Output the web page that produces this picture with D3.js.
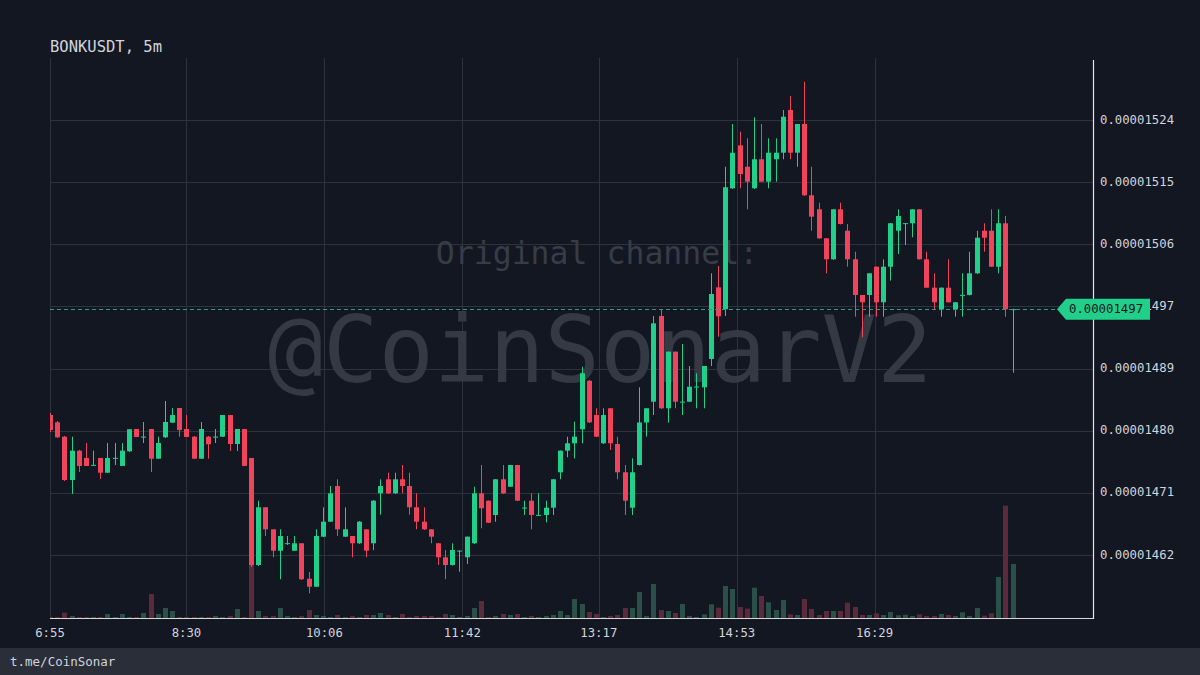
<!DOCTYPE html>
<html><head><meta charset="utf-8">
<script src="https://cdn.jsdelivr.net/npm/d3@7"></script>
<style>html,body{margin:0;padding:0;background:#131722;}svg{display:block;}</style>
</head><body><div id="chart"></div>
<script>
// ---- data (prices in units of 1e-8 USDT) ----
const symbolTitle = "BONKUSDT, 5m";
const startTime = "06:55";
const stepMinutes = 5;
const open = [1481.95,1480.91,1478.86,1472.69,1476.87,1475.83,1474.83,1475.83,1473.73,1475.83,
1474.69,1476.78,1479.96,1478.86,1479.96,1475.73,1478.78,1480.86,1482.95,1479.96,
1478.86,1475.73,1478.86,1478.86,1478.86,1481.95,1477.82,1479.96,1475.83,1460.57,
1468.80,1465.66,1462.61,1463.67,1462.61,1463.67,1458.62,1457.48,1464.61,1466.75,
1471.83,1464.61,1464.71,1463.67,1465.66,1463.67,1470.79,1472.79,1470.79,1472.79,
1471.83,1468.80,1466.75,1465.66,1463.67,1461.67,1460.57,1462.61,1461.67,1463.67,
1470.79,1469.74,1467.70,1472.79,1471.73,1474.83,1468.74,1469.74,1467.70,1467.70,
1468.74,1473.79,1476.87,1477.92,1479.92,1486.84,1481.95,1477.92,1482.91,1477.82,
1473.79,1468.74,1474.83,1480.89,1483.85,1496.06,1482.91,1490.98,1483.85,1483.85,
1485.99,1485.90,1489.94,1500.15,1497.02,1514.27,1520.39,1517.34,1514.27,1518.40,
1515.21,1518.40,1519.34,1525.43,1519.34,1523.43,1513.27,1511.27,1507.14,1504.15,
1511.27,1508.22,1504.15,1499.06,1499.06,1503.09,1498.02,1503.09,1508.22,1509.28,
1509.28,1511.27,1504.15,1500.10,1497.02,1500.10,1497.02,1499.06,1499.06,1502.15,
1508.22,1508.22,1503.09,1509.28,1497.02];
const close = [1479.82,1478.78,1472.69,1476.87,1474.69,1474.69,1474.85,1473.73,1475.83,1475.85,
1476.87,1479.92,1478.82,1478.88,1475.73,1477.96,1480.96,1481.95,1479.82,1478.82,
1475.73,1479.96,1477.78,1478.88,1481.95,1477.82,1479.96,1474.69,1460.57,1468.80,
1465.66,1462.61,1464.71,1463.69,1463.67,1458.54,1457.48,1464.71,1466.75,1470.79,
1465.66,1465.66,1463.67,1466.75,1462.61,1469.74,1471.83,1470.79,1472.79,1471.83,
1468.80,1466.75,1465.66,1464.61,1461.67,1460.57,1462.71,1462.63,1464.61,1470.79,
1468.66,1466.60,1472.79,1470.79,1474.83,1469.74,1468.76,1467.70,1467.72,1468.74,
1472.79,1476.87,1477.92,1478.86,1487.90,1480.91,1478.86,1481.95,1477.92,1473.79,
1469.74,1473.79,1480.89,1482.91,1495.02,1482.91,1490.98,1483.85,1483.87,1485.99,
1486.01,1488.94,1499.20,1496.02,1514.41,1519.34,1516.30,1515.21,1518.40,1515.21,
1519.34,1519.34,1524.47,1519.34,1523.43,1513.27,1510.22,1507.14,1504.15,1511.27,
1509.18,1504.15,1499.06,1498.02,1502.15,1498.02,1503.09,1509.28,1510.32,1509.30,
1511.27,1504.15,1500.10,1498.02,1500.10,1498.02,1498.02,1499.08,1502.15,1507.22,
1507.22,1503.09,1509.28,1497.02,1497.04];
const high = [1482.24,1481.10,1478.96,1478.86,1476.97,1477.96,1476.87,1475.83,1477.96,1477.96,
1477.96,1479.96,1479.96,1480.96,1479.96,1478.86,1483.95,1482.95,1482.95,1481.95,
1478.96,1480.96,1478.96,1479.96,1481.95,1481.95,1479.96,1479.96,1475.83,1469.74,
1468.84,1465.66,1465.66,1464.71,1464.71,1463.71,1459.58,1465.66,1468.80,1471.83,
1472.79,1468.80,1464.71,1466.85,1465.70,1469.84,1472.79,1473.73,1473.73,1474.83,
1473.73,1470.79,1468.80,1465.70,1463.71,1462.71,1463.67,1462.65,1464.64,1471.73,
1474.83,1469.77,1472.83,1474.83,1474.83,1474.83,1469.74,1470.79,1470.79,1469.74,
1472.83,1476.90,1478.86,1481.00,1488.84,1486.94,1482.91,1482.91,1482.95,1478.86,
1474.83,1475.78,1485.90,1482.95,1496.06,1497.02,1491.01,1491.01,1492.07,1488.94,
1487.90,1488.94,1502.15,1503.19,1517.34,1523.43,1522.33,1521.39,1524.38,1523.43,
1521.39,1521.39,1525.43,1527.42,1523.43,1529.46,1517.34,1512.21,1507.18,1511.31,
1512.21,1509.18,1505.23,1499.06,1502.19,1503.12,1504.15,1509.32,1511.27,1509.32,
1511.31,1511.31,1505.23,1502.15,1500.13,1504.15,1498.06,1502.15,1505.23,1508.22,
1509.28,1511.27,1511.27,1510.32,1497.10];
const low = [1479.53,1478.68,1472.55,1470.69,1473.83,1474.69,1474.69,1472.83,1473.69,1474.83,
1474.69,1476.68,1478.82,1477.96,1473.83,1475.68,1478.68,1480.81,1478.86,1478.82,
1475.68,1475.68,1475.73,1477.96,1478.82,1476.82,1476.82,1474.69,1460.29,1460.43,
1464.71,1461.67,1458.54,1463.43,1462.57,1458.44,1456.54,1457.44,1464.57,1466.70,
1464.71,1464.57,1461.67,1463.57,1461.67,1462.71,1467.74,1470.69,1470.69,1470.79,
1467.74,1465.66,1465.56,1463.67,1460.57,1458.54,1460.50,1459.62,1460.72,1463.57,
1465.81,1466.56,1466.75,1470.69,1471.69,1469.70,1467.70,1465.66,1467.63,1466.66,
1467.70,1472.79,1475.93,1475.78,1477.92,1480.81,1478.82,1477.82,1476.97,1472.79,
1467.70,1467.70,1474.76,1478.86,1481.95,1482.81,1480.86,1482.91,1481.95,1483.81,
1482.91,1482.91,1488.94,1493.11,1496.06,1514.17,1514.27,1511.27,1514.17,1515.16,
1514.27,1515.21,1518.40,1518.40,1517.34,1513.17,1508.22,1507.04,1502.15,1504.05,
1509.11,1503.09,1495.96,1493.03,1495.96,1495.96,1495.96,1501.10,1504.90,1506.18,
1507.28,1504.12,1500.06,1497.02,1495.96,1497.99,1495.96,1495.96,1498.99,1502.05,
1505.23,1503.05,1502.15,1495.96,1487.98];
const volume = [1,1,5.3,2,1,1,1,1,4,1,
4,1,1,5,24,4,10,7,1,1,
1,1,1,2,1,2,9,1,60,7,
2,2,10,2,1,2,8,3,2,1,
3,1,2,1,3,3,5,3,1,4,
1,2,2,2,1,4,3,1,2,10,
17,1,2,4,3,4,1,2,1,2,
3,7,3,19,14,6,4,1,2,3,
10,10,26,2,34,8,7,5,14,2,
1,3.7,13.7,10.3,32,29,11,9.3,30.3,22,
15.7,8,18,3.7,3,19,9,3,7,7,
7,15.3,11,3,3,4.7,3,6,2.7,3.3,
2,3.7,2,2,4,3,2,5.7,2,10,
2.3,4.7,41,112.3,54];
const yTickValues = [1462.00,1470.86,1479.71,1488.57,1497.43,1506.29,1515.14,1524.00];
const xTickLabels = ["6:55","8:30","10:06","11:42","13:17","14:53","16:29"];
const xDomainLabels = ["06:55","19:01"];
const lastPrice = 1497.02;
const watermarkTop = "Original channel:";
const watermarkMain = "@CoinSonarV2";
const footerText = "t.me/CoinSonar";

// ---- layout ----
const W = 1200, H = 675;
const L = 50, R = 1093, T = 58, B = 618;
const FONT = "'DejaVu Sans Mono', 'Liberation Mono', monospace";
const UP = "#22cf8a", DOWN = "#f0445c";
const UPV = "#2b5049", DOWNV = "#5b2b3b";

const parseT = d3.timeParse("%H:%M");
const t0 = parseT(startTime);
const times = open.map((_, i) => d3.timeMinute.offset(t0, i * stepMinutes));
const candles = times.map((t, i) => ({t, o: open[i], h: high[i], l: low[i], c: close[i], v: volume[i]}));

const x = d3.scaleTime().domain(xDomainLabels.map(parseT)).range([L, R]);
const y = d3.scaleLinear().domain([yTickValues[0], yTickValues[yTickValues.length-1]]).range([555, 120]);
const vy = d3.scaleLinear().domain([0, d3.max(volume)]).range([0, 112.3]);

const svg = d3.select("#chart").append("svg").attr("width", W).attr("height", H);
svg.append("rect").attr("width", W).attr("height", H).attr("fill", "#131722");

// title
svg.append("text").attr("x", L).attr("y", 52).attr("fill", "#d1d4dc")
  .attr("font-family", FONT).attr("font-size", 15.5).text(symbolTitle);

// grid
const xTickDates = xTickLabels.map(s => parseT(s.padStart(5, "0")));
const grid = svg.append("g");
grid.selectAll("line.v").data(xTickDates).enter().append("line")
  .attr("x1", d => Math.round(x(d)) + 0.5).attr("x2", d => Math.round(x(d)) + 0.5)
  .attr("y1", T).attr("y2", B).attr("stroke", "#2e323c").attr("stroke-width", 1);
grid.selectAll("line.h").data(yTickValues).enter().append("line")
  .attr("x1", L).attr("x2", R).attr("y1", d => Math.round(y(d)) + 0.5).attr("y2", d => Math.round(y(d)) + 0.5)
  .attr("stroke", "#2e323c").attr("stroke-width", 1);

// watermark
svg.append("text").attr("x", 597).attr("y", 255).attr("text-anchor", "middle").attr("dominant-baseline", "middle")
  .attr("font-family", FONT).attr("font-size", 31.5).attr("fill", "#383c47").text(watermarkTop);
svg.append("text").attr("x", 600).attr("y", 357).attr("text-anchor", "middle").attr("dominant-baseline", "middle")
  .attr("font-family", FONT).attr("font-size", 92).attr("fill", "#353944").text(watermarkMain);

// clip
svg.append("clipPath").attr("id", "plot").append("rect").attr("x", L).attr("y", T).attr("width", R - L).attr("height", B - T);
const plot = svg.append("g").attr("clip-path", "url(#plot)");

// bottom axis line
svg.append("line").attr("x1", L).attr("x2", R).attr("y1", B + 0.5).attr("y2", B + 0.5).attr("stroke", "#d8d8d8").attr("stroke-width", 1);

// volume
plot.selectAll("rect.vol").data(candles).enter().append("rect")
  .attr("x", d => Math.round(x(d.t)) - 2).attr("width", 5)
  .attr("y", d => B - vy(d.v)).attr("height", d => vy(d.v))
  .attr("fill", d => d.c >= d.o ? UPV : DOWNV);

// last price dashed line
svg.append("line").attr("x1", L).attr("x2", 1058).attr("y1", Math.round(y(lastPrice)) + 0.5).attr("y2", Math.round(y(lastPrice)) + 0.5)
  .attr("stroke", "#2a9c87").attr("stroke-width", 1).attr("stroke-dasharray", "4,3");

// candles
const cg = plot.selectAll("g.c").data(candles).enter().append("g");
cg.append("line")
  .attr("x1", d => Math.round(x(d.t)) + 0.5).attr("x2", d => Math.round(x(d.t)) + 0.5)
  .attr("y1", d => y(d.h)).attr("y2", d => y(d.l))
  .attr("stroke", d => d.c >= d.o ? UP : DOWN).attr("stroke-width", 1);
cg.append("rect")
  .attr("x", d => Math.round(x(d.t)) - 2).attr("width", 5)
  .attr("y", d => y(Math.max(d.o, d.c)))
  .attr("height", d => Math.max(1, Math.abs(y(d.o) - y(d.c))))
  .attr("fill", d => d.c >= d.o ? UP : DOWN);

// right axis line
svg.append("line").attr("x1", R + 0.5).attr("x2", R + 0.5).attr("y1", T + 2).attr("y2", B + 1).attr("stroke", "#e6e6e6").attr("stroke-width", 1.2);

// y labels
svg.selectAll("text.yl").data(yTickValues).enter().append("text")
  .attr("x", 1100).attr("y", d => y(d)).attr("dominant-baseline", "middle")
  .attr("font-family", FONT).attr("font-size", 12.3).attr("fill", "#d1d4dc")
  .text(d => (d / 1e8).toFixed(8));

// x labels
svg.selectAll("text.xl").data(xTickDates).enter().append("text")
  .attr("x", d => x(d)).attr("y", 633).attr("text-anchor", "middle").attr("dominant-baseline", "middle")
  .attr("font-family", FONT).attr("font-size", 12.3).attr("fill", "#d1d4dc")
  .text((d, i) => xTickLabels[i]);

// last price tag
const py = y(lastPrice);
svg.append("path").attr("d", `M1057,${py} L1066,${py-10.5} L1150,${py-10.5} L1150,${py+10.5} L1066,${py+10.5} Z`)
  .attr("fill", UP);
svg.append("text").attr("x", 1069).attr("y", py).attr("dominant-baseline", "middle")
  .attr("font-family", FONT).attr("font-size", 12.3).attr("fill", "#131722").text((lastPrice / 1e8).toFixed(8));

// footer
svg.append("rect").attr("x", 0).attr("y", 648).attr("width", W).attr("height", H - 648).attr("fill", "#2a2e39");
svg.append("text").attr("x", 10).attr("y", 662).attr("dominant-baseline", "middle")
  .attr("font-family", FONT).attr("font-size", 12.5).attr("fill", "#d1d4dc").text(footerText);
</script></body></html>
